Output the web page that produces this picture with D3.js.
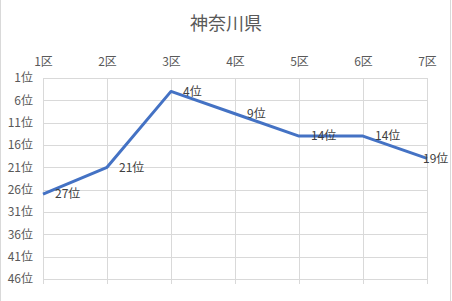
<!DOCTYPE html>
<html>
<head>
<meta charset="utf-8">
<script src="https://cdn.jsdelivr.net/npm/d3@7"></script>
<style>
  body { margin: 0; background: #fff; }
  svg { display: block; font-family: "Noto Sans CJK JP", "Noto Sans", sans-serif; }
</style>
</head>
<body>
<svg id="chart" width="452" height="301"></svg>
<script>
const districts = ['1区', '2区', '3区', '4区', '5区', '6区', '7区']
const ranks = [27, 21, 4, 9, 14, 14, 19]
const rankTicks = [1, 6, 11, 16, 21, 26, 31, 36, 41, 46]
const title = '神奈川県'

const W = 452, H = 301
const margin = { top: 78, right: 25, bottom: 22, left: 43 }
const svg = d3.select('#chart')

const x = d3.scalePoint()
    .domain(districts)
    .range([margin.left, W - margin.right])

const y = d3.scaleLinear()
    .domain([1, 46])
    .range([margin.top, H - margin.bottom])

// chart frame (only the side edges show)
svg.append('line').attr('x1', 0.5).attr('x2', 0.5).attr('y1', 0).attr('y2', H)
    .attr('stroke', '#d9d9d9')
svg.append('line').attr('x1', 450.5).attr('x2', 450.5).attr('y1', 0).attr('y2', H)
    .attr('stroke', '#d9d9d9')

svg.append('text')
    .attr('x', W / 2)
    .attr('y', 30)
    .attr('text-anchor', 'middle')
    .attr('font-size', 18)
    .attr('fill', '#595959')
    .text(title)

// grid
const grid = svg.append('g').attr('stroke', '#d9d9d9').attr('stroke-width', 1)
grid.selectAll('.h')
    .data(rankTicks)
    .enter()
    .append('line')
    .attr('x1', margin.left)
    .attr('x2', W - margin.right)
    .attr('y1', d => Math.round(y(d)) + 0.5)
    .attr('y2', d => Math.round(y(d)) + 0.5)
grid.selectAll('.v')
    .data(districts)
    .enter()
    .append('line')
    .attr('x1', d => Math.round(x(d)) + 0.5)
    .attr('x2', d => Math.round(x(d)) + 0.5)
    .attr('y1', margin.top)
    .attr('y2', H - margin.bottom + 5)

// top category labels
const topAxis = svg.append('g')
    .attr('transform', `translate(0, ${margin.top - 12})`)
    .call(d3.axisTop(x).tickSize(0).tickPadding(0))
topAxis.select('.domain').remove()
topAxis.selectAll('text')
    .attr('font-size', 12)
    .attr('fill', '#595959')
    .attr('font-family', '"Noto Sans CJK JP", sans-serif')

// left rank labels
const leftAxis = svg.append('g')
    .attr('transform', `translate(${margin.left - 10}, 0)`)
    .call(d3.axisLeft(y).tickValues(rankTicks).tickSize(0).tickPadding(0).tickFormat(d => d + '位'))
leftAxis.select('.domain').remove()
leftAxis.selectAll('text')
    .attr('font-size', 12)
    .attr('fill', '#595959')
    .attr('font-family', '"Noto Sans CJK JP", sans-serif')

const points = districts.map((d, i) => ({ d, v: ranks[i] }))

svg.append('path')
    .datum(points)
    .attr('fill', 'none')
    .attr('stroke', '#4472c4')
    .attr('stroke-width', 3)
    .attr('stroke-linejoin', 'round')
    .attr('d', d3.line().x(p => x(p.d)).y(p => y(p.v)))

svg.append('g')
    .selectAll('text')
    .data(points)
    .enter()
    .append('text')
    .attr('x', p => Math.min(x(p.d) + 12, W - 29))
    .attr('y', p => y(p.v))
    .attr('dy', '0.35em')
    .attr('font-size', 12)
    .attr('fill', '#404040')
    .text(p => p.v + '位')
</script>
</body>
</html>
